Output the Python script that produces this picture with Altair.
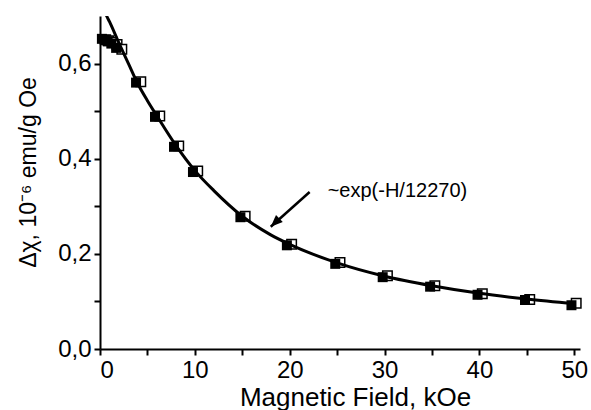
import altair as alt
import pandas as pd

# Measured data: filled squares
H_filled = [0.2, 0.5, 0.8, 1.2, 1.7, 3.8, 5.8, 7.8, 9.8, 14.8, 19.7, 24.8, 29.8, 34.8, 39.8, 44.8, 49.7]
chi_filled = [0.652, 0.650, 0.647, 0.642, 0.633, 0.560, 0.488, 0.425, 0.372, 0.277, 0.218, 0.179, 0.151, 0.131, 0.114, 0.103, 0.092]

# Measured data: open squares
H_open = [0.6, 0.9, 1.3, 1.8, 2.3, 4.3, 6.3, 8.3, 10.3, 15.3, 20.2, 25.3, 30.3, 35.3, 40.3, 45.3, 50.2]
chi_open = [0.650, 0.648, 0.645, 0.640, 0.630, 0.562, 0.490, 0.427, 0.374, 0.279, 0.220, 0.182, 0.154, 0.133, 0.116, 0.104, 0.096]

# Fit curve (~exp(-H/12270))
H_fit = [0.4, 0.7, 1, 2, 3, 4, 5, 6, 8, 10, 12, 15, 18, 20, 25, 30, 35, 40, 45, 50]
chi_fit = [0.715, 0.700, 0.688, 0.643, 0.600, 0.557, 0.522, 0.490, 0.428, 0.375, 0.333, 0.279, 0.240, 0.220, 0.181, 0.153, 0.133, 0.117, 0.105, 0.095]

# Annotation
note_text = ["~exp(-H/12270)"]
note_pos = [24.0, 0.333]
arrow_tail = [22.1, 0.330]
arrow_tip = [18.0, 0.257]

x_ticks = [0, 5, 10, 15, 20, 25, 30, 35, 40, 45, 50]
y_ticks = [0.0, 0.1, 0.2, 0.3, 0.4, 0.5, 0.6]

FONT = "Liberation Sans"

df_f = pd.DataFrame({"H": H_filled, "chi": chi_filled})
df_o = pd.DataFrame({"H": H_open, "chi": chi_open})
df_fit = pd.DataFrame({"H": H_fit, "chi": chi_fit})
df_note = pd.DataFrame({"H": [note_pos[0]], "chi": [note_pos[1]], "t": note_text})
df_arrow = pd.DataFrame({"H": [arrow_tail[0]], "chi": [arrow_tail[1]],
                         "H2": [arrow_tip[0]], "chi2": [arrow_tip[1]]})
df_tip = pd.DataFrame({"H": [arrow_tip[0]], "chi": [arrow_tip[1]]})

xscale = alt.Scale(domain=[0, 50.6], nice=False, zero=False)
yscale = alt.Scale(domain=[0, 0.7], nice=False)

xaxis = alt.Axis(
    title="Magnetic Field, kOe", values=x_ticks,
    labelExpr="datum.value % 10 == 0 ? datum.label : ''",
    format="d", grid=False, domainColor="black", domainWidth=2,
    tickColor="black", tickWidth=2, tickSize=6, labelPadding=3,
    labelFont=FONT, labelFontSize=24, labelColor="black",
    titleFont=FONT, titleFontSize=26, titleFontWeight="normal", titleColor="black",
    titleBaseline="alphabetic", titleY=56, titleX=255,
)
yaxis = alt.Axis(
    title="Δχ, 10⁻⁶ emu/g Oe", values=y_ticks,
    labelExpr="round(datum.value*10) % 2 == 0 ? replace(format(datum.value, '.1f'), '.', ',') : ''",
    grid=False, domainColor="black", domainWidth=2,
    tickColor="black", tickWidth=2, tickSize=6, labelPadding=3,
    labelFont=FONT, labelFontSize=24, labelColor="black",
    titleFont=FONT, titleFontSize=23, titleFontWeight="normal", titleColor="black",
    titleBaseline="alphabetic", titleX=-65, titleY=156,
)

base_x = alt.X("H:Q", scale=xscale, axis=xaxis)
base_y = alt.Y("chi:Q", scale=yscale, axis=yaxis)

opened = alt.Chart(df_o).mark_point(shape="square", filled=True, fill="white", stroke="black",
                                    strokeWidth=1.5, size=90, opacity=1).encode(
    x=base_x, y=base_y)
filled = alt.Chart(df_f).mark_point(shape="square", filled=True, color="black", size=100, opacity=1).encode(
    x=alt.X("H:Q", scale=xscale), y=alt.Y("chi:Q", scale=yscale))
fit = alt.Chart(df_fit).mark_line(color="black", strokeWidth=3, interpolate="monotone", clip=True).encode(
    x=alt.X("H:Q", scale=xscale), y=alt.Y("chi:Q", scale=yscale))
note = alt.Chart(df_note).mark_text(align="left", baseline="middle", font=FONT, fontSize=20, color="black").encode(
    x=alt.X("H:Q", scale=xscale), y=alt.Y("chi:Q", scale=yscale), text="t:N")
arrow = alt.Chart(df_arrow).mark_rule(color="black", strokeWidth=2.5).encode(
    x=alt.X("H:Q", scale=xscale), y=alt.Y("chi:Q", scale=yscale),
    x2="H2:Q", y2="chi2:Q")
tip = alt.Chart(df_tip).mark_point(shape="M0,0L0.65,1.6L-0.65,1.6Z", filled=True, color="black",
                                   size=225, angle=226, opacity=1).encode(
    x=alt.X("H:Q", scale=xscale), y=alt.Y("chi:Q", scale=yscale))

chart = alt.layer(opened, filled, fit, arrow, tip, note).properties(
    width=480, height=333,
    autosize=alt.AutoSizeParams(type="none"),
    padding={"left": 100, "top": 16, "right": 11, "bottom": 61},
    background="white",
).configure_view(stroke=None)

chart.save("out.html", embed_options={"renderer": "svg", "actions": False})
